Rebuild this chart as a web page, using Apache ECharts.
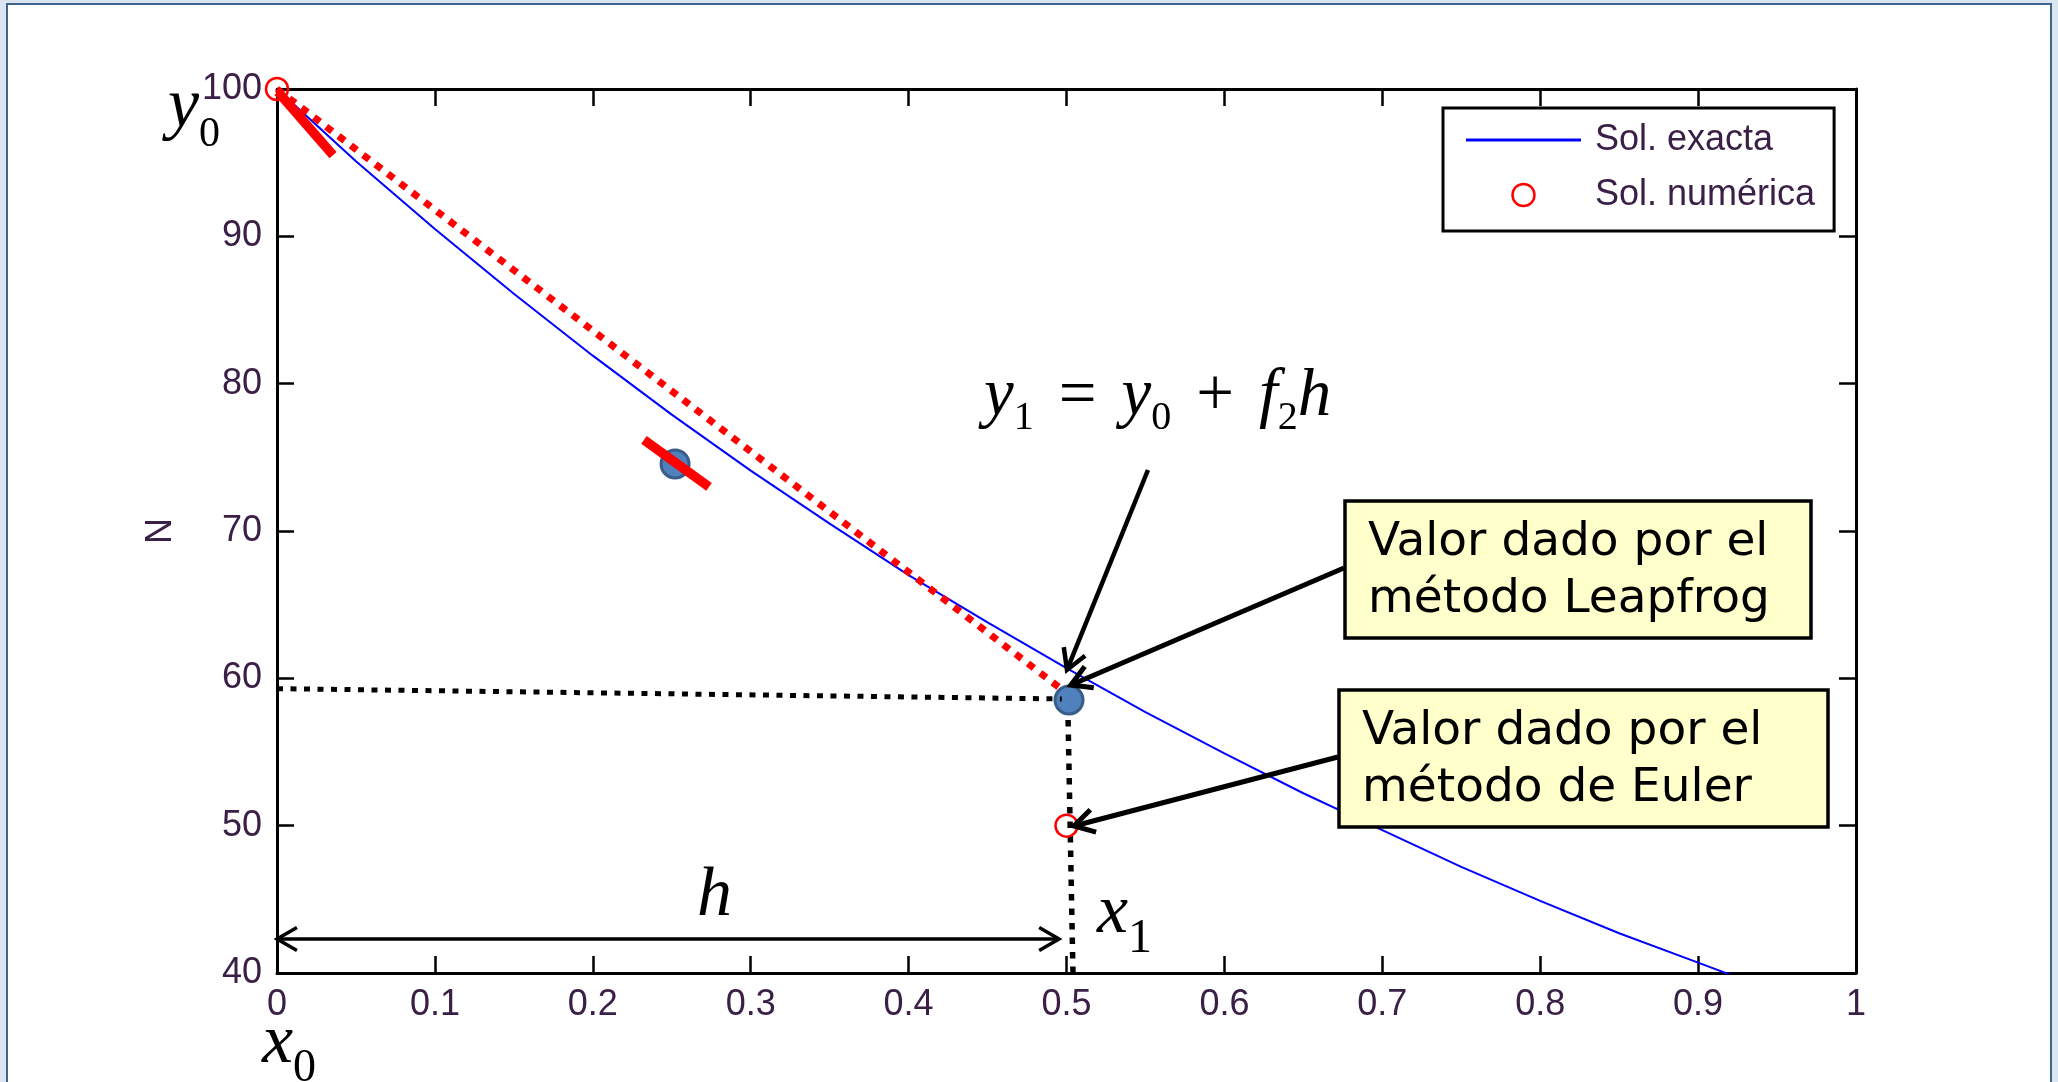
<!DOCTYPE html>
<html>
<head>
<meta charset="utf-8">
<script src="https://cdn.jsdelivr.net/npm/echarts@6/dist/echarts.min.js"></script>
<style>
  html, body { margin: 0; padding: 0; background: #dbe5f1; }
  #chart { width: 2058px; height: 1082px; }
</style>
</head>
<body>
<div id="chart"></div>
<script>
// Exact solution N(x)
const exactX = [0, 0.05, 0.1, 0.15, 0.2, 0.25, 0.3, 0.35, 0.4, 0.45, 0.5, 0.55, 0.6, 0.65, 0.7, 0.75, 0.8, 0.85, 0.9, 0.95];
const exactN = [100, 95.1, 90.5, 86.1, 81.9, 77.9, 74.1, 70.5, 67.0, 63.8, 60.7, 57.7, 54.9, 52.2, 49.7, 47.2, 44.9, 42.7, 40.7, 38.7];

// Numerical solution (Euler step): start point and first step
const eulerX = [0, 0.5];
const eulerN = [100, 50];

// Leapfrog points: midpoint estimate and resulting y1
const leapX = [0.2521, 0.5016];
const leapN = [74.55, 58.53];

// Straight step from y0 to y1 with slope f2
const stepX = [0, 0.4959];
const stepN = [100, 59.34];

// Short slope markers at x0 and at the midpoint
const slope0X = [0.0006, 0.0355];
const slope0N = [99.8, 95.52];
const slopeMidX = [0.2324, 0.2736];
const slopeMidN = [76.18, 72.99];

// Dotted guides to y1 and x1
const guideHX = [0, 0.497];
const guideHN = [59.3, 58.6];
const guideVX = [0.501, 0.5041];
const guideVN = [57.17, 40];

// Annotation arrows (data coordinates); heads: 1 = at end, 2 = both ends
const arrowFromX = [0.5516, 0.6757, 0.6719, 0];
const arrowFromN = [74.14, 67.49, 54.66, 42.31];
const arrowToX   = [0.5003, 0.5028, 0.5047, 0.4953];
const arrowToN   = [60.57, 59.55, 49.98, 42.31];
const arrowHeads = [1, 1, 1, 2];
const arrowWidth = [4.5, 5, 5, 3.5];

// Tick labels
const xTickLabels = ['0', '0.1', '0.2', '0.3', '0.4', '0.5', '0.6', '0.7', '0.8', '0.9', '1'];
const yTickLabels = ['40', '50', '60', '70', '80', '90', '100'];

const seriesNames = ['Sol. exacta', 'Sol. numérica'];

const zip = (xs, ys) => xs.map((x, i) => [x, ys[i]]);

const tickFont = "'Liberation Sans Narrow', 'Arial Narrow', 'Liberation Sans', Arial, sans-serif";
const tickColor = '#3a2046';
const serif = "'Liberation Serif', 'Times New Roman', serif";
const boxFont = "'DejaVu Sans', Verdana, sans-serif";

function mathRich(F, Fs, pt, gap) {
  return {
    i: { fontFamily: serif, fontStyle: 'italic', fontSize: F, color: '#000', verticalAlign: 'middle' },
    r: { fontFamily: serif, fontSize: F, color: '#000', verticalAlign: 'middle' },
    s: { fontFamily: serif, fontSize: Fs, color: '#000', verticalAlign: 'middle', padding: [pt, 0, 0, 0] },
    sp: { fontFamily: serif, fontSize: F, width: gap, verticalAlign: 'middle' }
  };
}

function mathText(x, y, text, F, Fs, pt, gap) {
  return {
    type: 'text', x: x, y: y, z: 50, silent: true,
    style: { text: text, rich: mathRich(F, Fs, pt, gap || 20), align: 'left', verticalAlign: 'middle' }
  };
}

function noteBox(x, y, w, h, tx, ty, text) {
  return [
    { type: 'rect', z: 40, silent: true, shape: { x: x, y: y, width: w, height: h },
      style: { fill: '#ffffcc', stroke: '#000', lineWidth: 3.5 } },
    { type: 'text', z: 41, silent: true, x: tx, y: ty,
      style: { text: text, fontFamily: boxFont, fontSize: 47, lineHeight: 57, fill: '#000',
               align: 'left', verticalAlign: 'top' } }
  ];
}

function renderArrow(params, api) {
  const a = api.coord([api.value(0), api.value(1)]);
  const b = api.coord([api.value(2), api.value(3)]);
  const heads = api.value(4);
  const w = api.value(5);
  const len = 23, ang = Math.PI / 6;
  const head = (tip, from) => {
    const d = Math.atan2(from[1] - tip[1], from[0] - tip[0]);
    return {
      type: 'polyline',
      shape: { points: [
        [tip[0] + len * Math.cos(d + ang), tip[1] + len * Math.sin(d + ang)],
        tip,
        [tip[0] + len * Math.cos(d - ang), tip[1] + len * Math.sin(d - ang)]
      ] },
      style: { stroke: '#000', lineWidth: w, fill: null, lineJoin: 'miter', lineCap: 'butt' }
    };
  };
  const children = [
    { type: 'line', shape: { x1: a[0], y1: a[1], x2: b[0], y2: b[1] },
      style: { stroke: '#000', lineWidth: w, lineCap: 'butt' } },
    head(b, a)
  ];
  if (heads === 2) children.push(head(a, b));
  return { type: 'group', children: children };
}

const chart = echarts.init(document.getElementById('chart'), null, { renderer: 'canvas' });

const axisLineStyle = { color: '#000', width: 3 };
const tickStyle = { show: true, inside: true, length: 17, lineStyle: { color: '#000', width: 2.5 } };

chart.setOption({
  backgroundColor: '#dbe5f1',
  animation: false,
  grid: { left: 277, top: 89, width: 1579, height: 884, containLabel: false, outerBoundsMode: 'none' },
  xAxis: [
    { type: 'value', min: 0, max: 1, interval: 0.1, position: 'bottom',
      axisLine: { show: true, onZero: false, lineStyle: axisLineStyle },
      axisTick: tickStyle, splitLine: { show: false },
      axisLabel: { margin: 14, fontFamily: tickFont, fontSize: 36, color: tickColor,
                   formatter: v => xTickLabels[Math.round(v * 10)] } },
    { type: 'value', min: 0, max: 1, interval: 0.1, position: 'top',
      axisLine: { show: true, onZero: false, lineStyle: axisLineStyle },
      axisTick: tickStyle, splitLine: { show: false }, axisLabel: { show: false } }
  ],
  yAxis: [
    { type: 'value', min: 40, max: 100, interval: 10, position: 'left',
      name: 'N', nameLocation: 'middle', nameGap: 98, nameRotate: 90,
      nameTextStyle: { fontFamily: tickFont, fontSize: 36, color: tickColor },
      axisLine: { show: true, onZero: false, lineStyle: axisLineStyle },
      axisTick: tickStyle, splitLine: { show: false },
      axisLabel: { margin: 15, fontFamily: tickFont, fontSize: 36, color: tickColor,
                   formatter: v => yTickLabels[Math.round((v - 40) / 10)] } },
    { type: 'value', min: 40, max: 100, interval: 10, position: 'right',
      axisLine: { show: true, onZero: false, lineStyle: axisLineStyle },
      axisTick: tickStyle, splitLine: { show: false }, axisLabel: { show: false } }
  ],
  legend: {
    data: [
      { name: seriesNames[0], icon: 'path://M0,0 L115,0 L115,3 L0,3 Z',
        itemStyle: { color: '#0000ff', borderWidth: 0 } },
      { name: seriesNames[1], icon: 'circle',
        itemStyle: { color: 'rgba(0,0,0,0)', borderColor: '#ff0000', borderWidth: 2.5 } }
    ],
    orient: 'vertical', left: 1443, top: 108,
    padding: [14, 19, 18, 23], itemGap: 19, itemWidth: 115, itemHeight: 22,
    borderColor: '#000', borderWidth: 3, backgroundColor: '#fff',
    textStyle: { fontFamily: tickFont, fontSize: 36, color: tickColor, padding: [0, 0, 0, 9] },
    selectedMode: false
  },
  series: [
    { name: seriesNames[0], type: 'line', data: zip(exactX, exactN), symbol: 'none',
      lineStyle: { color: '#0000ff', width: 2 }, itemStyle: { color: '#0000ff' }, z: 2 },
    { name: 'step', type: 'line', data: zip(stepX, stepN), symbol: 'none', z: 3,
      lineStyle: { color: '#ff0000', width: 7, type: [7.5, 8], cap: 'butt' } },
    { name: 'leapfrog', type: 'scatter', data: zip(leapX, leapN), symbol: 'circle', symbolSize: 28, z: 4,
      itemStyle: { color: '#4f81bd', borderColor: '#385d8a', borderWidth: 3, opacity: 1 } },
    { name: 'guideH', type: 'line', data: zip(guideHX, guideHN), symbol: 'none', z: 5,
      lineStyle: { color: '#000', width: 5, type: [6, 7.5], cap: 'butt' } },
    { name: 'guideV', type: 'line', data: zip(guideVX, guideVN), symbol: 'none', z: 5,
      lineStyle: { color: '#000', width: 5.5, type: [6.5, 8], cap: 'butt' } },
    { name: 'slope0', type: 'line', data: zip(slope0X, slope0N), symbol: 'none', z: 6,
      lineStyle: { color: '#ff0000', width: 9.5, cap: 'butt' } },
    { name: 'slopeMid', type: 'line', data: zip(slopeMidX, slopeMidN), symbol: 'none', z: 6,
      lineStyle: { color: '#ff0000', width: 9.5, cap: 'butt' } },
    { name: seriesNames[1], type: 'scatter', data: zip(eulerX, eulerN), symbol: 'circle', symbolSize: 22,
      clip: false, z: 7,
      itemStyle: { color: 'rgba(0,0,0,0)', borderColor: '#ff0000', borderWidth: 2.5, opacity: 1 } },
    { name: 'arrows', type: 'custom', clip: false, z: 8, renderItem: renderArrow,
      data: arrowFromX.map((x, i) => [x, arrowFromN[i], arrowToX[i], arrowToN[i], arrowHeads[i], arrowWidth[i]]) }
  ],
  graphic: [
    { type: 'rect', z: -100, silent: true, shape: { x: 7, y: 4, width: 2044, height: 1090 },
      style: { fill: '#ffffff', stroke: '#41648f', lineWidth: 2 } },
    mathText(168, 108, '{i|y}{s|0}', 70, 42, 54),
    mathText(984, 397, '{i|y}{s|1}{sp| }{r|=}{sp| }{i|y}{s|0}{sp| }{r|+}{sp| }{i|f}{s|2}{i|h}', 67, 40, 42, 25),
    mathText(697, 897, '{i|h}', 70, 46, 0),
    mathText(1097, 914, '{i|x}{s|1}', 70, 48, 51),
    mathText(262, 1044, '{i|x}{s|0}', 70, 46, 50),
    ...noteBox(1345, 501, 466, 137, 1368, 514, 'Valor dado por el\nmétodo Leapfrog'),
    ...noteBox(1339, 690, 489, 137, 1362, 703, 'Valor dado por el\nmétodo de Euler')
  ]
});
</script>
</body>
</html>
